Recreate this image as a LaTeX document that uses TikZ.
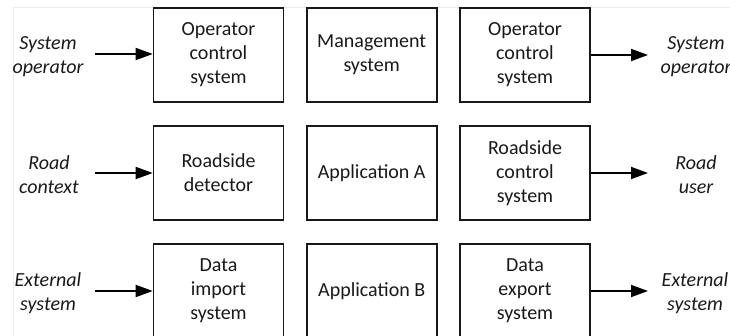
\documentclass[tikz,border=0pt]{standalone}
\usepackage{fontspec}
\setmainfont{Carlito}
\usetikzlibrary{arrows.meta}
\begin{document}
\begin{tikzpicture}[x=1pt,y=-1pt,
  box/.style={draw=black!90, line width=1.6pt, minimum width=130pt, minimum height=94pt, inner sep=0pt, align=center, font=\fontsize{20}{24}\selectfont, text=black!90},
  lab/.style={align=center, inner sep=0pt, font=\fontsize{20}{24}\selectfont\itshape, text=black!90},
  arr/.style={line width=1.8pt, draw=black, -{Triangle[length=17pt,width=12pt]}},
  frame/.style={draw=black!8, line width=0.8pt}]
\useasboundingbox (0,0) rectangle (730,336);
\clip (0,0) rectangle (730,336);
\draw[frame] (13,336) -- (13,7) -- (730,7);
% boxes
\node[box] (ocs1) at (218.5,55) {Operator\\control\\system};
\node[box] (ms)   at (371.7,55) {Management\\system};
\node[box] (ocs2) at (525,55) {Operator\\control\\system};
\node[box] (rd)   at (218.5,173) {Roadside\\detector};
\node[box] (appa) at (371.7,173) {Application A};
\node[box] (rcs)  at (525,173) {Roadside\\control\\system};
\node[box] (dis)  at (218.5,291) {Data\\import\\system};
\node[box] (appb) at (371.7,291) {Application B};
\node[box] (des)  at (525,291) {Data\\export\\system};
% labels
\node[lab] (l1) at (48,57) {System\\operator};
\node[lab] (l2) at (49,175) {Road\\context};
\node[lab] (l3) at (48,293) {External\\system};
\node[lab] (r1) at (696,57) {System\\operator};
\node[lab] (r2) at (696,175) {Road\\user};
\node[lab] (r3) at (695,293) {External\\system};
% arrow ends
\coordinate (s1) at (95,54);
\coordinate (s2) at (95,173);
\coordinate (s3) at (95,291);
\coordinate (e1) at (648,55);
\coordinate (e2) at (648,173);
\coordinate (e3) at (648,291);
\draw[arr] (s1) -- (s1 -| ocs1.west);
\draw[arr] (s2) -- (s2 -| rd.west);
\draw[arr] (s3) -- (s3 -| dis.west);
\draw[arr] (e1 -| ocs2.east) -- (e1);
\draw[arr] (e2 -| rcs.east) -- (e2);
\draw[arr] (e3 -| des.east) -- (e3);
\end{tikzpicture}
\end{document}
